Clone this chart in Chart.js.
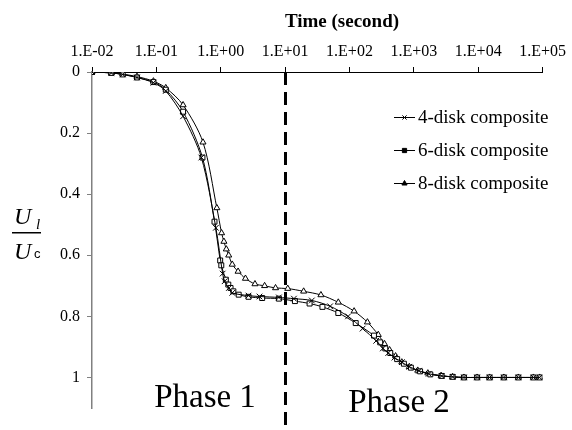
<!DOCTYPE html>
<html><head><meta charset="utf-8">
<script src="https://cdn.jsdelivr.net/npm/chart.js@4.4.1/dist/chart.umd.min.js"></script>
<style>html,body{margin:0;padding:0;background:#fff}#wrap{width:572px;height:430px}</style>
</head><body><div id="wrap"><canvas id="c" width="572" height="430"></canvas></div>
<script>
const xTickValues = [0.01, 0.1, 1, 10, 100, 1000, 10000, 100000];
const xTickLabels = ["1.E-02","1.E-01","1.E+00","1.E+01","1.E+02","1.E+03","1.E+04","1.E+05"];
const yTickValues = [0, 0.2, 0.4, 0.6, 0.8, 1];
const yTickLabels = ["0","0.2","0.4","0.6","0.8","1"];
const seriesNames = ["4-disk composite","6-disk composite","8-disk composite"];
const xTitle = "Time (second)";

const time4 = [0.01,0.02,0.03,0.05,0.09,0.14,0.26,0.5,0.84,1.07,1.15,1.34,1.51,2.7,4.0,8.0,13.7,26,50,95,160,260,330,400,500,650,850,1200,1700,2700,4000,6000,9600,15000,25000,42000,72000,90000];
const u4 = [0,0.003,0.008,0.018,0.035,0.062,0.145,0.28,0.51,0.66,0.685,0.707,0.723,0.732,0.735,0.738,0.742,0.748,0.767,0.80,0.84,0.88,0.905,0.92,0.935,0.95,0.965,0.978,0.988,0.995,0.998,1.0,1.0,1.0,1.0,1.0,1.0,1.0];

const time6 = [0.01,0.02,0.03,0.05,0.09,0.14,0.26,0.52,0.8,0.98,1.02,1.2,1.31,1.42,1.57,1.9,2.7,4.4,8.0,14.2,24,38,67,125,240,300,360,430,550,700,900,1250,1800,2700,4000,6000,9600,15000,25000,42000,72000,90000];
const u6 = [0,0.003,0.008,0.018,0.033,0.058,0.13,0.28,0.49,0.617,0.633,0.68,0.696,0.707,0.718,0.729,0.736,0.74,0.742,0.75,0.758,0.769,0.789,0.822,0.863,0.885,0.905,0.92,0.94,0.955,0.968,0.98,0.99,0.995,0.998,1.0,1.0,1.0,1.0,1.0,1.0,1.0];

const time8 = [0.01,0.02,0.03,0.05,0.09,0.14,0.26,0.53,0.87,1.03,1.12,1.22,1.33,1.51,1.86,2.42,3.4,4.8,7.1,11,19.4,36,67,118,190,280,350,420,520,650,850,1150,1650,2650,4000,6000,9600,15000,25000,42000,72000,90000];
const u8 = [0,0.003,0.007,0.015,0.03,0.052,0.108,0.23,0.445,0.527,0.555,0.58,0.60,0.63,0.653,0.676,0.694,0.70,0.707,0.709,0.718,0.73,0.754,0.783,0.819,0.86,0.89,0.91,0.93,0.95,0.965,0.977,0.986,0.994,0.998,1.0,1.0,1.0,1.0,1.0,1.0,1.0];

const phaseLabels = ["Phase 1","Phase 2"];
const dividerTime = 10;

function pts(t,u){return t.map((v,i)=>({x:v,y:u[i]}));}
const styles = ['crossRot','rect','triangle'];
const SERIF = '"Liberation Serif","Times New Roman",serif';

const dsBase = {borderColor:'#000',borderWidth:1,pointBorderColor:'#000',pointBackgroundColor:'#fff',pointBorderWidth:1,pointRadius:3.5,tension:0.3,showLine:true,fill:false};
const datasets = [
  Object.assign({}, dsBase, {label:seriesNames[0], data:pts(time4,u4), pointStyle:styles[0], pointRadius:4}),
  Object.assign({}, dsBase, {label:seriesNames[1], data:pts(time6,u6), pointStyle:styles[1], pointRadius:3.5}),
  Object.assign({}, dsBase, {label:seriesNames[2], data:pts(time8,u8), pointStyle:styles[2], pointRadius:3.5})
];

const extras = {
  id:'extras',
  afterDatasetsDraw(chart){
    const ctx = chart.ctx, xs = chart.scales.x, ca = chart.chartArea;
    ctx.save();
    // x title
    ctx.fillStyle='#000'; ctx.font='bold 19px '+SERIF; ctx.textAlign='center'; ctx.textBaseline='middle';
    ctx.fillText(xTitle, 342, 22);
    // divider
    const dx = Math.round(xs.getPixelForValue(dividerTime))+0.5;
    ctx.strokeStyle='#000'; ctx.lineWidth=3; ctx.setLineDash([13,7]);
    ctx.beginPath(); ctx.moveTo(dx, ca.top); ctx.lineTo(dx, 432); ctx.stroke();
    ctx.setLineDash([]);
    // phase labels
    ctx.fillStyle='#000'; ctx.font='33px '+SERIF; ctx.textAlign='center'; ctx.textBaseline='alphabetic';
    ctx.fillText(phaseLabels[0], 205, 407);
    ctx.fillText(phaseLabels[1], 399, 412);
    // legend
    const ly=[117,150,183];
    ctx.font='19px '+SERIF; ctx.textAlign='left'; ctx.textBaseline='middle';
    datasets.forEach((d,i)=>{
      ctx.strokeStyle='#000'; ctx.lineWidth=1;
      ctx.beginPath(); ctx.moveTo(394, ly[i]+0.5); ctx.lineTo(415, ly[i]+0.5); ctx.stroke();
      Chart.helpers.drawPoint(ctx,{pointStyle:d.pointStyle,radius:3,borderWidth:1},404.5,ly[i]+0.5);
      ctx.fillStyle='#000';
      ctx.fillText(d.label, 418, ly[i]+1);
    });
    // y title fraction
    ctx.font='italic 24px '+SERIF; ctx.textAlign='left'; ctx.textBaseline='alphabetic';
    ctx.save(); ctx.beginPath(); ctx.rect(0,190,41,40); ctx.clip();
    ctx.fillText('U', 14, 224);
    ctx.font='italic 15px '+SERIF; ctx.fillText('l', 36, 229);
    ctx.restore();
    ctx.fillRect(12, 232, 29, 1.5);
    ctx.font='italic 24px '+SERIF; ctx.fillText('U', 14, 259);
    ctx.font='13px "Liberation Sans",Arial,sans-serif'; ctx.fillText('c', 34, 258);
    ctx.restore();
  }
};

new Chart(document.getElementById('c'), {
  type:'scatter',
  data:{datasets},
  plugins:[extras],
  options:{
    responsive:false, animation:false, devicePixelRatio:1,
    layout:{padding:{left:0,right:26,top:0,bottom:22}},
    plugins:{legend:{display:false}, tooltip:{enabled:false}},
    scales:{
      x:{type:'logarithmic', position:'top', min:0.01, max:100000,
        afterBuildTicks(s){ s.ticks = xTickValues.map(v=>({value:v})); },
        afterFit(s){ s.height = 72; },
        ticks:{color:'#000', font:{family:SERIF,size:16}, padding:6, maxRotation:0, autoSkip:false,
          callback(v){ const i = xTickValues.findIndex(t=>Math.abs(Math.log10(t)-Math.log10(v))<1e-6); return i>=0?xTickLabels[i]:''; }},
        grid:{display:true, drawOnChartArea:false, drawTicks:true, tickLength:5, color:'#000', lineWidth:1},
        border:{display:true, color:'#000', width:1},
        title:{display:false}
      },
      y:{type:'linear', reverse:true, min:0, max:1.1,
        afterBuildTicks(s){ s.ticks = yTickValues.map(v=>({value:v})); },
        afterFit(s){ s.width = 92; },
        ticks:{color:'#000', font:{family:SERIF,size:16}, padding:7,
          callback(v){ const i = yTickValues.findIndex(t=>Math.abs(t-v)<1e-9); return i>=0?yTickLabels[i]:''; }},
        grid:{display:true, drawOnChartArea:false, drawTicks:true, tickLength:5, color:'#808080', lineWidth:1},
        border:{display:true, color:'#808080', width:1.5}
      }
    }
  }
});
</script></body></html>
